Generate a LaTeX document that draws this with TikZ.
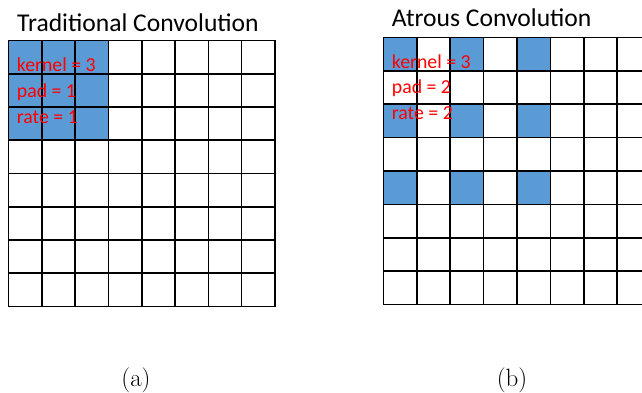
\documentclass[tikz,border=0pt]{standalone}
\usepackage{fontspec}
\newfontfamily\labelfont{Carlito}
\definecolor{cellblue}{HTML}{5B9BD5}

\begin{document}
\begin{tikzpicture}[x=1pt, y=-1pt,
	title/.style={anchor=base west, inner sep=0pt, font=\labelfont\fontsize{25.6}{30}\selectfont},
	param/.style={anchor=base west, inner sep=0pt, text=red, font=\labelfont\fontsize{19.8}{24}\selectfont},
	sub/.style={inner sep=0pt, font=\fontsize{25}{30}\selectfont},
	hit/.style={fill=cellblue},
	gridline/.style={draw=black, line width=1.6pt, line cap=rect}]

	\useasboundingbox (0,0) rectangle (642,392);

	% Traditional grid
	\begin{scope}[shift={(8.5,40.5)}, x=33.3pt, y=-33.25pt]
		\foreach \i in {0,1,2}
			\foreach \j in {0,1,2}
				\fill[hit] (\i,\j) rectangle ++(1,1);
		\foreach \k in {0,...,8} {
			\draw[gridline] (\k,0) -- (\k,8);
			\draw[gridline] (0,\k) -- (8,\k);
		}
	\end{scope}

	% Atrous grid
	\begin{scope}
		\clip (370,0) rectangle (642,392);
		\begin{scope}[shift={(383.3,37.3)}, x=33.4pt, y=-33.4pt]
			\foreach \i in {0,2,4}
				\foreach \j in {0,2,4}
					\fill[hit] (\i,\j) rectangle ++(1,1);
			\foreach \k in {0,...,8} {
				\draw[gridline] (\k,0) -- (\k,8);
				\draw[gridline] (0,\k) -- (8,\k);
			}
		\end{scope}
	\end{scope}

	% Titles
	\node[title] (tradtitle) at (17,31.7) {Traditional Convolution};
	\node[title] (atroustitle) at (391.7,26.7) {Atrous Convolution};

	% Parameters
	\node[param] (tradkernel) at (16.7,71.7) {kernel = 3};
	\node[param] (tradpad) at (16.7,97) {pad = 1};
	\node[param] (tradrate) at (16.7,123) {rate = 1};
	\node[param] (atrkernel) at (391.7,68.3) {kernel = 3};
	\node[param] (atrpad) at (391.7,93.5) {pad = 2};
	\node[param] (atrrate) at (391.7,119.5) {rate = 2};

	% Captions
	\node[sub] (capa) at (136,380) {(a)};
	\node[sub] (capb) at (512,380) {(b)};
\end{tikzpicture}
\end{document}
